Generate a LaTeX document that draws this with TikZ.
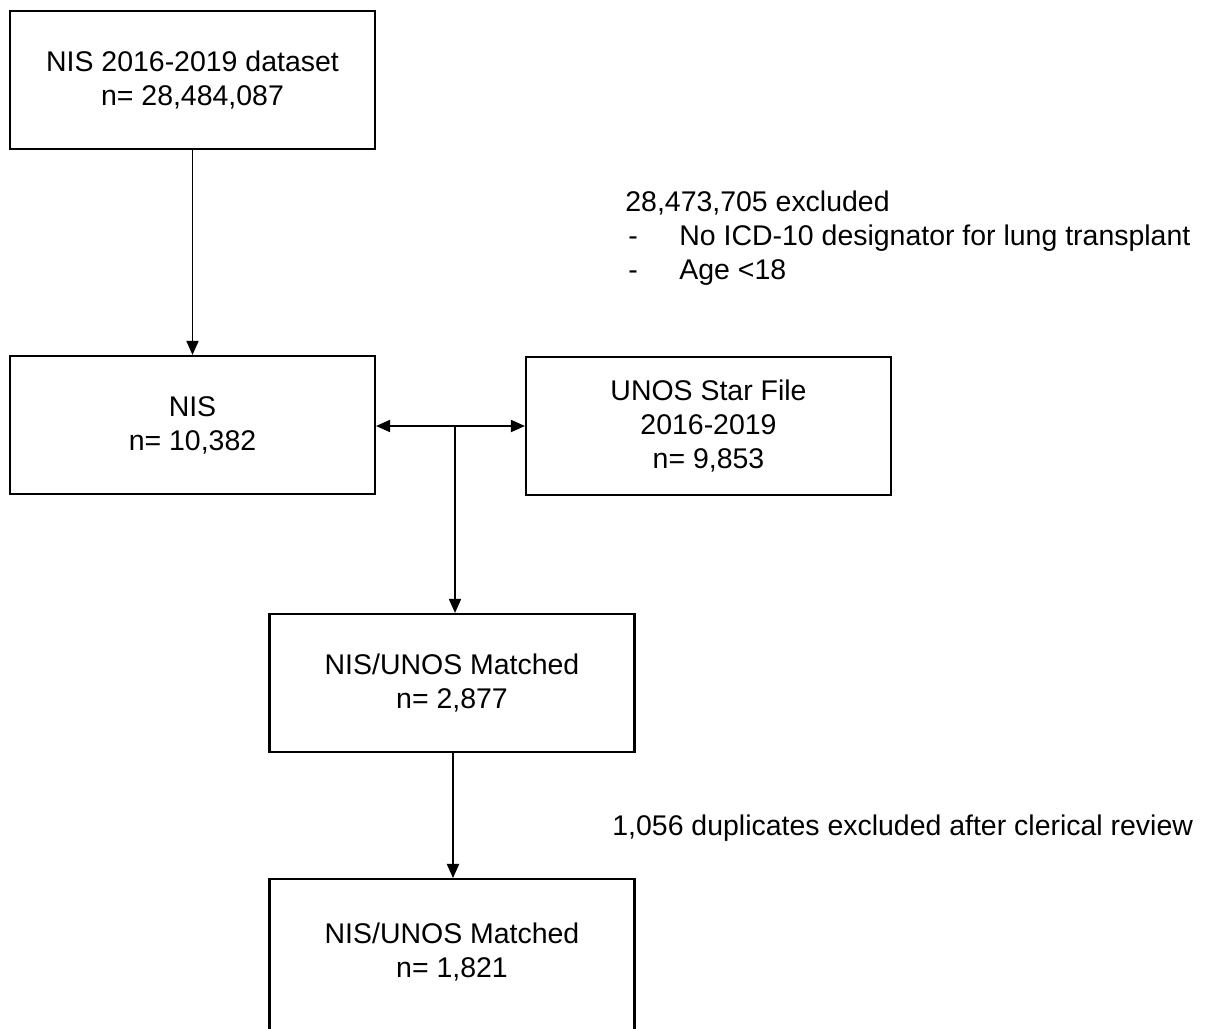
\documentclass[tikz,border=0pt]{standalone}
\usepackage{fontspec}
\setmainfont{Liberation Sans}
\usetikzlibrary{arrows.meta,positioning}

\begin{document}
\begin{tikzpicture}[x=0.02cm, y=-0.02cm,
    box/.style={draw, line width=1.3pt, minimum width=7.3cm, minimum height=2.76cm, align=center, font=\fontsize{16.2}{19.4}\selectfont},
    arr/.style={-{Triangle[length=8pt,width=7pt]}, line width=0.6pt},
    note/.style={inner sep=0pt, align=left, font=\fontsize{16.2}{19.4}\selectfont}]
    \useasboundingbox (0,0) rectangle (1212,1028);
    \node[box] (nisall) at (192.5,80) {NIS 2016-2019 dataset\\n= 28,484,087};
    \node[box] (nis) at (192.5,425) {NIS\\n= 10,382};
    \node[box] (unos) at (708.5,426) {UNOS Star File\\2016-2019\\n= 9,853};
    \node[box] (matched) at (452,683) {NIS/UNOS Matched\\n= 2,877};
    % last box runs off the bottom of the page
    \node[box, anchor=north, minimum height=3.52cm] (final) at (452,878) {NIS/UNOS Matched\\n= 1,821\\\mbox{}};
    \node[note, anchor=west] (excl) at (625,238) {28,473,705 excluded\\\makebox[1.08cm][l]{\hspace{0.06cm}-}No ICD-10 designator for lung transplant\\\makebox[1.08cm][l]{\hspace{0.06cm}-}Age <18};
    \node[note, anchor=west] (dupl) at (612,828) {1,056 duplicates excluded after clerical review};
    \coordinate (split) at (455,426);
    \draw[arr] (nisall) -- (nis);
    \draw[arr] (split) -- (nis.east |- split);
    \draw[arr] (split) -- (unos.west |- split);
    \draw[arr] (split) -- (split |- matched.north);
    \draw[arr] (matched.south -| 453,0) -- (final.north -| 453,0);
\end{tikzpicture}
\end{document}
